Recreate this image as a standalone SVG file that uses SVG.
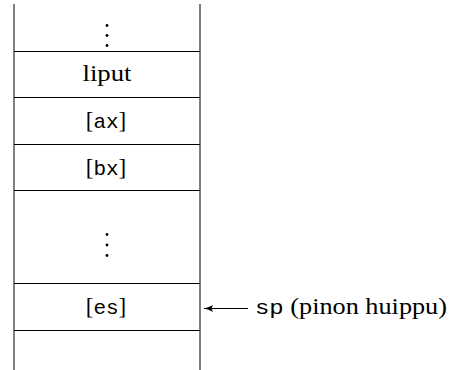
<svg xmlns="http://www.w3.org/2000/svg" width="451" height="370" viewBox="0 0 451 370">
  <style>
    .frame { stroke: #000; stroke-width: 1; fill: none; }
    .rm { font-family: "Liberation Serif", "Times New Roman", serif; font-size: 23px; fill: #000; }
    .tt { font-family: "Liberation Mono", "Courier New", monospace; font-size: 21px; }
    .dot { fill: #000; }
  </style>
  <defs>
    <marker id="head" markerWidth="10" markerHeight="8" refX="9" refY="4" orient="auto" markerUnits="userSpaceOnUse">
      <path d="M0,0.6 Q4.5,3.3 9,4 Q4.5,4.7 0,7.4 L1.6,4 Z" fill="#000" stroke="none"/>
    </marker>
  </defs>

  <!-- stack walls and slot separators -->
  <g id="stack">
    <line class="frame" x1="14" y1="4" x2="14" y2="370"/>
    <line class="frame" x1="200" y1="4" x2="200" y2="370"/>
    <line class="frame" x1="14" y1="51.5" x2="200" y2="51.5"/>
    <line class="frame" x1="14" y1="97.5" x2="200" y2="97.5"/>
    <line class="frame" x1="14" y1="144.5" x2="200" y2="144.5"/>
    <line class="frame" x1="14" y1="190.5" x2="200" y2="190.5"/>
    <line class="frame" x1="14" y1="283.5" x2="200" y2="283.5"/>
    <line class="frame" x1="14" y1="330.5" x2="200" y2="330.5"/>
  </g>

  <g id="slot-top-dots">
    <circle class="dot" cx="107" cy="25.5" r="1.4"/>
    <circle class="dot" cx="107" cy="35.5" r="1.4"/>
    <circle class="dot" cx="107" cy="45.5" r="1.4"/>
  </g>

  <g id="slot-liput">
    <text class="rm" x="107" y="81" text-anchor="middle" textLength="49" lengthAdjust="spacingAndGlyphs">liput</text>
  </g>

  <g id="slot-ax">
    <text class="rm" x="106" y="128" text-anchor="middle">[<tspan class="tt">ax</tspan>]</text>
  </g>

  <g id="slot-bx">
    <text class="rm" x="106" y="175" text-anchor="middle">[<tspan class="tt">bx</tspan>]</text>
  </g>

  <g id="slot-mid-dots">
    <circle class="dot" cx="107" cy="234.5" r="1.4"/>
    <circle class="dot" cx="107" cy="245" r="1.4"/>
    <circle class="dot" cx="107" cy="255.5" r="1.4"/>
  </g>

  <g id="slot-es">
    <text class="rm" x="106" y="314" text-anchor="middle">[<tspan class="tt">es</tspan>]</text>
  </g>

  <!-- stack pointer -->
  <g id="connectors">
    <line x1="248" y1="308.5" x2="204" y2="308.5" stroke="#000" stroke-width="1" marker-end="url(#head)"/>
  </g>
  <g id="sp-label">
    <text class="rm" x="255" y="314" textLength="192" lengthAdjust="spacingAndGlyphs"><tspan class="tt">sp</tspan> (pinon huippu)</text>
  </g>
</svg>
